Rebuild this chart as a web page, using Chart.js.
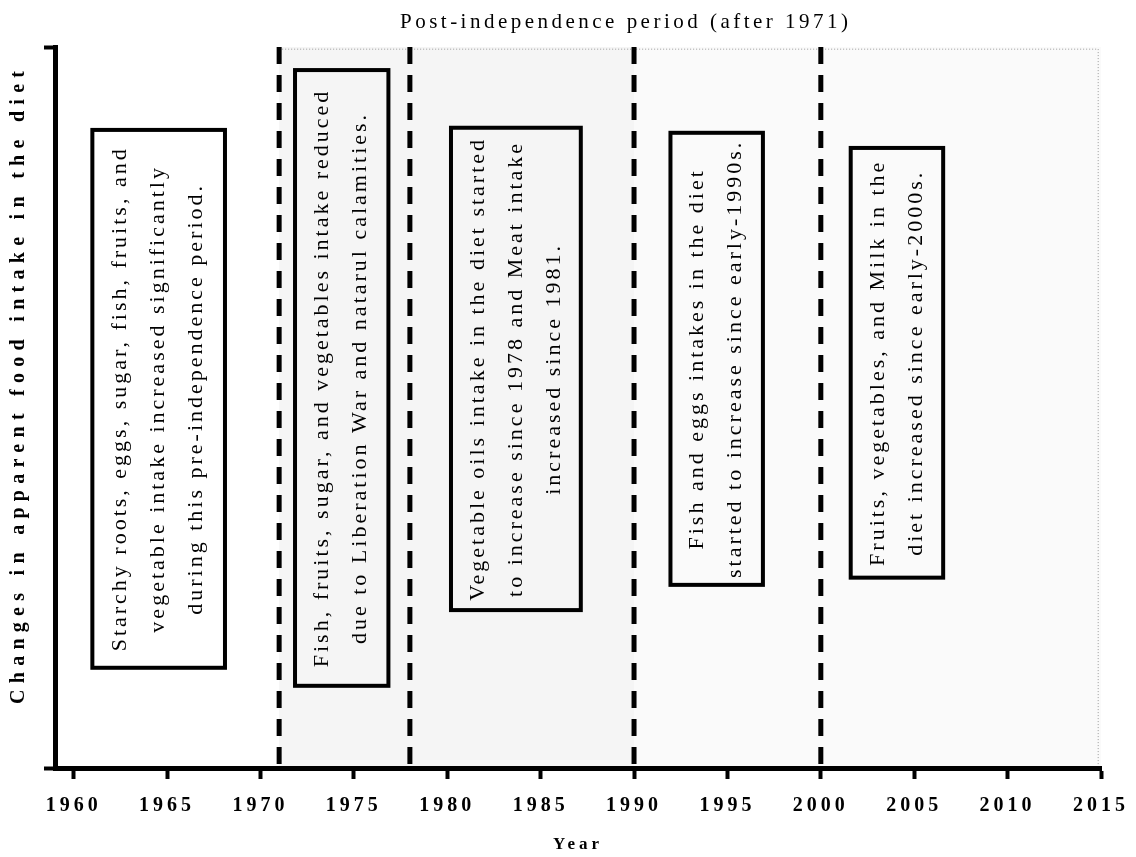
<!DOCTYPE html>
<html>
<head>
<meta charset="utf-8">
<script src="https://cdn.jsdelivr.net/npm/chart.js@4/dist/chart.umd.min.js"></script>
<style>
html, body { margin: 0; padding: 0; background: #fff; }
</style>
</head>
<body>
<canvas id="timelineCanvas" width="1136" height="857"></canvas>
<script>
var chartTitle = 'Post-independence period (after 1971)';
var yAxisTitle = 'Changes in apparent food intake in the diet';
var xAxisTitle = 'Year';
var yearTicks = [1960, 1965, 1970, 1975, 1980, 1985, 1990, 1995, 2000, 2005, 2010, 2015];
var periodBreaks = [1971, 1978, 1990, 2000];

var noteLines = [
  ['Starchy roots, eggs, sugar, fish, fruits, and', 'vegetable intake increased significantly', 'during this pre-independence period.'],
  ['Fish, fruits, sugar, and vegetables intake reduced', 'due to Liberation War and natarul calamities.'],
  ['Vegetable oils intake in the diet started', 'to increase since 1978 and Meat intake', 'increased since 1981.'],
  ['Fish and eggs intakes in the diet', 'started to increase since early-1990s.'],
  ['Fruits, vegetables, and Milk in the', 'diet increased since early-2000s.']
];

// where each note box sits, in axis units (years across, 0-100 up)
var noteBoxes = [
  { x0: 1961.0, x1: 1968.1, y0: 13.9, y1: 88.5 },
  { x0: 1971.85, x1: 1976.85, y0: 11.4, y1: 96.8 },
  { x0: 1980.2, x1: 1987.15, y0: 21.9, y1: 88.8 },
  { x0: 1991.95, x1: 1996.9, y0: 25.4, y1: 88.1 },
  { x0: 2001.6, x1: 2006.55, y0: 26.4, y1: 86.0 }
];

var serif = '"Liberation Serif", "Times New Roman", serif';

function fitSpacing(c, text, width) {
  c.letterSpacing = '0px';
  var w = c.measureText(text).width;
  c.letterSpacing = ((width - w) / (text.length - 1)) + 'px';
}

var notesPlugin = {
  id: 'notes',
  beforeDraw: function (chart) {
    var c = chart.ctx, x = chart.scales.x, y = chart.scales.y;
    c.save();
    // faint tint of the post-independence area
    c.fillStyle = '#f5f5f5';
    c.fillRect(x.getPixelForValue(1971), y.getPixelForValue(100), x.getPixelForValue(1990) - x.getPixelForValue(1971), y.getPixelForValue(0) - y.getPixelForValue(100));
    c.fillStyle = '#fafafa';
    c.fillRect(x.getPixelForValue(1990), y.getPixelForValue(100), x.getPixelForValue(2015) - x.getPixelForValue(1990), y.getPixelForValue(0) - y.getPixelForValue(100));
    c.strokeStyle = '#9a9a9a';
    c.lineWidth = 1;
    c.setLineDash([1, 2]);
    c.beginPath();
    c.moveTo(x.getPixelForValue(1971), y.getPixelForValue(99.7));
    c.lineTo(x.getPixelForValue(2014.85), y.getPixelForValue(99.7));
    c.lineTo(x.getPixelForValue(2014.85), y.getPixelForValue(0));
    c.stroke();
    c.restore();
    c.letterSpacing = '4px';
  },
  afterDatasetsDraw: function (chart) {
    var c = chart.ctx, x = chart.scales.x, y = chart.scales.y;
    c.save();
    noteBoxes.forEach(function (b, i) {
      var left = x.getPixelForValue(b.x0), right = x.getPixelForValue(b.x1);
      var top = y.getPixelForValue(b.y1), bottom = y.getPixelForValue(b.y0);
      c.strokeStyle = '#000';
      c.lineWidth = 4;
      c.setLineDash([]);
      c.strokeRect(left, top, right - left, bottom - top);

      var lines = noteLines[i];
      c.save();
      c.translate((left + right) / 2, (top + bottom) / 2);
      c.rotate(-Math.PI / 2);
      c.font = '22px ' + serif;
      c.letterSpacing = '3px';
      c.fillStyle = '#000';
      c.textAlign = 'center';
      c.textBaseline = 'middle';
      lines.forEach(function (t, k) {
        c.fillText(t, 0, (k - (lines.length - 1) / 2) * 38);
      });
      c.restore();
    });

    // top title
    c.font = '21px ' + serif;
    c.fillStyle = '#000';
    c.textAlign = 'left';
    c.textBaseline = 'middle';
    fitSpacing(c, chartTitle, 448);
    c.fillText(chartTitle, 400, 22);

    // y axis title
    c.save();
    c.translate(19, 388);
    c.rotate(-Math.PI / 2);
    c.font = 'bold 20px ' + serif;
    fitSpacing(c, yAxisTitle, 633);
    c.textAlign = 'left';
    c.fillText(yAxisTitle, -316, 0);
    c.restore();
    c.restore();
  }
};

var ctx = document.getElementById('timelineCanvas').getContext('2d');
var graph = new Chart(ctx, {
  type: 'scatter',
  data: {
    datasets: periodBreaks.map(function (yr) {
      return {
        data: [{ x: yr, y: 100 }, { x: yr, y: 0 }],
        showLine: true,
        borderColor: '#000',
        borderWidth: 5,
        borderDash: [17, 11],
        pointRadius: 0,
        pointHoverRadius: 0
      };
    })
  },
  options: {
    responsive: false,
    animation: false,
    devicePixelRatio: 1,
    layout: { padding: { top: 47, right: 27, left: 0, bottom: 0 } },
    plugins: { legend: { display: false }, tooltip: { enabled: false } },
    scales: {
      x: {
        type: 'linear',
        min: 1959,
        max: 2015,
        afterBuildTicks: function (s) { s.ticks = yearTicks.map(function (v) { return { value: v }; }); },
        afterFit: function (s) { s.height = 89; },
        ticks: {
          color: '#000',
          padding: 15,
          maxRotation: 0,
          autoSkip: false,
          font: { family: serif, size: 20, weight: 'bold' },
          callback: function (v) { return String(v); }
        },
        grid: { drawOnChartArea: false, drawTicks: true, tickLength: 11, tickWidth: 4, color: '#000' },
        border: { display: true, width: 5, color: '#000' },
        title: {
          display: true,
          text: xAxisTitle,
          color: '#000',
          font: { family: serif, size: 17, weight: 'bold' },
          padding: { top: 0, bottom: 2 }
        }
      },
      y: {
        type: 'linear',
        min: 0,
        max: 100,
        afterBuildTicks: function (s) { s.ticks = [{ value: 0 }, { value: 100 }]; },
        afterFit: function (s) { s.width = 55; },
        ticks: { display: false },
        grid: { drawOnChartArea: false, drawTicks: true, tickLength: 11, tickWidth: 4, color: '#000' },
        border: { display: true, width: 5, color: '#000' }
      }
    }
  },
  plugins: [notesPlugin]
});
</script>
</body>
</html>
